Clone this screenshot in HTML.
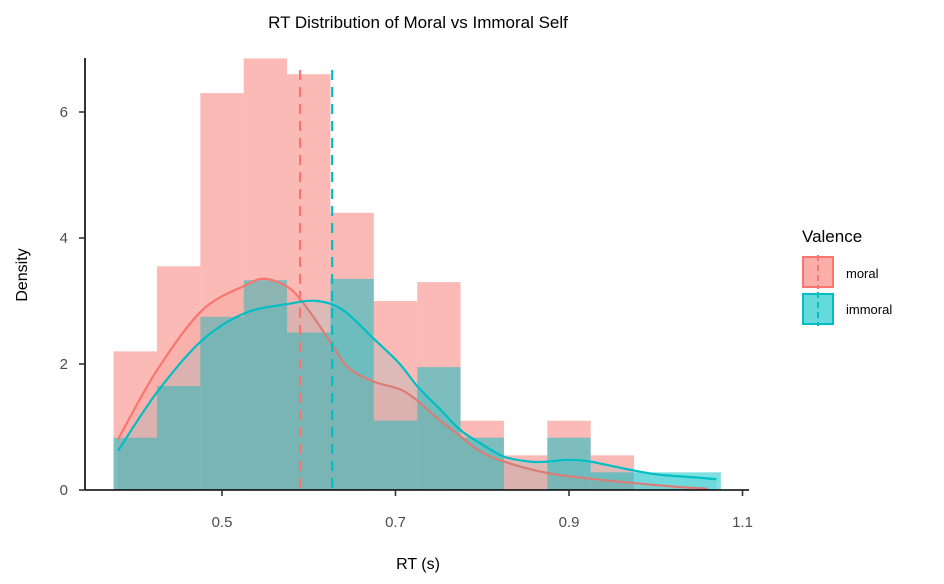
<!DOCTYPE html>
<html><head><meta charset="utf-8"><style>
html,body{margin:0;padding:0;background:#fff;overflow:hidden;font-family:"Liberation Sans",Arial,sans-serif}
svg{display:block}
svg text{font-family:"Liberation Sans",Arial,sans-serif}
</style></head><body>
<svg id="chart" width="944" height="584" viewBox="0 0 944 584">
<text x="418" y="28" font-size="17" text-anchor="middle" fill="#000">RT Distribution of Moral vs Immoral Self</text>
<g id="bars"></g><g id="dens"></g><g id="vlines"></g>
<line x1="85" y1="58" x2="85" y2="490" stroke="#000" stroke-width="1.6"/>
<line x1="85" y1="490" x2="749" y2="490" stroke="#000" stroke-width="1.6"/>
<g id="ticks"></g>
<text x="418" y="569" font-size="16" text-anchor="middle">RT (s)</text>
<text transform="translate(27,275) rotate(-90)" font-size="16" text-anchor="middle">Density</text>
<g>
<text x="802" y="242" font-size="17">Valence</text>
<g>
<rect x="803" y="257" width="30" height="30" fill="#F8766D" fill-opacity="0.6" stroke="#F8766D" stroke-width="2"/>
<line x1="818" y1="255" x2="818" y2="289" stroke="#F8766D" stroke-width="2" stroke-dasharray="6,4"/>
<text x="846" y="278" font-size="13">moral</text></g>
<g>
<rect x="803" y="294" width="30" height="30" fill="#00BFC4" fill-opacity="0.6" stroke="#00BFC4" stroke-width="2"/>
<line x1="818" y1="292" x2="818" y2="326" stroke="#00BFC4" stroke-width="2" stroke-dasharray="6,4"/>
<text x="846" y="314" font-size="13">immoral</text></g>
</g>
</svg>
<script>
const binStarts=[0.375,0.425,0.475,0.525,0.575,0.625,0.675,0.725,0.775,0.825,0.875,0.925,0.975,1.025];
const moralHist=[2.2,3.55,6.3,6.85,6.6,4.4,3.0,3.3,1.1,0.55,1.1,0.55,0,0];
const immoralHist=[0.83,1.65,2.75,3.33,2.5,3.35,1.1,1.95,0.83,0,0.83,0.28,0.28,0.28];
const moralDensX=[0.38,0.425,0.477,0.527,0.55,0.578,0.6,0.625,0.645,0.675,0.705,0.725,0.75,0.775,0.797,0.825,0.875,0.925,0.975,1.025,1.06];
const moralDensY=[0.8,1.9,2.85,3.25,3.35,3.2,2.85,2.35,1.95,1.72,1.6,1.42,1.12,0.85,0.62,0.45,0.27,0.18,0.11,0.05,0.02];
const immoralDensX=[0.38,0.425,0.475,0.525,0.575,0.61,0.64,0.675,0.705,0.725,0.75,0.775,0.797,0.825,0.855,0.875,0.9,0.925,0.96,1.0,1.045,1.07];
const immoralDensY=[0.62,1.55,2.35,2.8,2.95,3.0,2.85,2.4,2.0,1.65,1.3,0.95,0.75,0.53,0.45,0.45,0.48,0.45,0.35,0.25,0.2,0.17];
const means=[0.59,0.627];
const xTicks=[0.5,0.7,0.9,1.1];
const yTicks=[0,2,4,6];
const binW=0.05;
const X=v=>222+(v-0.5)*867.5;
const Y=v=>490-v*63;
const NS="http://www.w3.org/2000/svg";
function mk(t,a,p){const e=document.createElementNS(NS,t);for(const k in a)e.setAttribute(k,a[k]);p.appendChild(e);return e;}
function smooth(pts){
 let d='M'+pts[0][0].toFixed(1)+','+pts[0][1].toFixed(1);
 for(let i=0;i<pts.length-1;i++){
  const p0=pts[i-1]||pts[i],p1=pts[i],p2=pts[i+1],p3=pts[i+2]||p2;
  const c1=[p1[0]+(p2[0]-p0[0])/6,p1[1]+(p2[1]-p0[1])/6];
  const c2=[p2[0]-(p3[0]-p1[0])/6,p2[1]-(p3[1]-p1[1])/6];
  d+=` C${c1[0].toFixed(1)},${c1[1].toFixed(1)} ${c2[0].toFixed(1)},${c2[1].toFixed(1)} ${p2[0].toFixed(1)},${p2[1].toFixed(1)}`;
 }
 return d;
}
const bars=document.getElementById('bars');
[[moralHist,'#F8766D','moral'],[immoralHist,'#00BFC4','immoral']].forEach(([h,c,n])=>{
 h.forEach((v,i)=>{ if(v<=0)return;
  const r=mk('rect',{x:X(binStarts[i]),y:Y(v),width:X(binStarts[i]+binW)-X(binStarts[i]),height:490-Y(v),fill:c,'fill-opacity':0.5},bars);
  
  
 });
});
const dens=document.getElementById('dens');
[[moralDensX,moralDensY,'#F8766D','moral'],[immoralDensX,immoralDensY,'#00BFC4','immoral']].forEach(([xs,ys,c,n])=>{
 const d=smooth(xs.map((x,i)=>[X(x),Y(ys[i])]));
 const a=mk('path',{d:d+` L${X(xs[xs.length-1])},490 L${X(xs[0])},490 Z`,fill:c,'fill-opacity':0.12,stroke:'none'},dens);
 
 
 const l=mk('path',{d:d,fill:'none',stroke:c,'stroke-width':2.2,'stroke-linejoin':'round'},dens);
 
 
});
const vl=document.getElementById('vlines');
['#F8766D','#00BFC4'].forEach((c,i)=>{
 const l=mk('line',{x1:X(means[i]),x2:X(means[i]),y1:70,y2:490,stroke:c,'stroke-width':2.2,'stroke-dasharray':'10,7'},vl);
 
 
});
const tk=document.getElementById('ticks');
xTicks.forEach(v=>{
 const t=mk('line',{x1:X(v),x2:X(v),y1:490,y2:496,stroke:'#333','stroke-width':1.6},tk);
 
 
 const s=mk('text',{x:X(v),y:527,'font-size':15,'text-anchor':'middle',fill:'#4d4d4d'},tk);s.textContent=v.toFixed(1);
 
 
});
yTicks.forEach(v=>{
 const t=mk('line',{x1:79,x2:85,y1:Y(v),y2:Y(v),stroke:'#333','stroke-width':1.6},tk);
 
 
 const s=mk('text',{x:68,y:Y(v)+5,'font-size':15,'text-anchor':'end',fill:'#4d4d4d'},tk);s.textContent=v;
 
 
});
</script>
</body></html>
